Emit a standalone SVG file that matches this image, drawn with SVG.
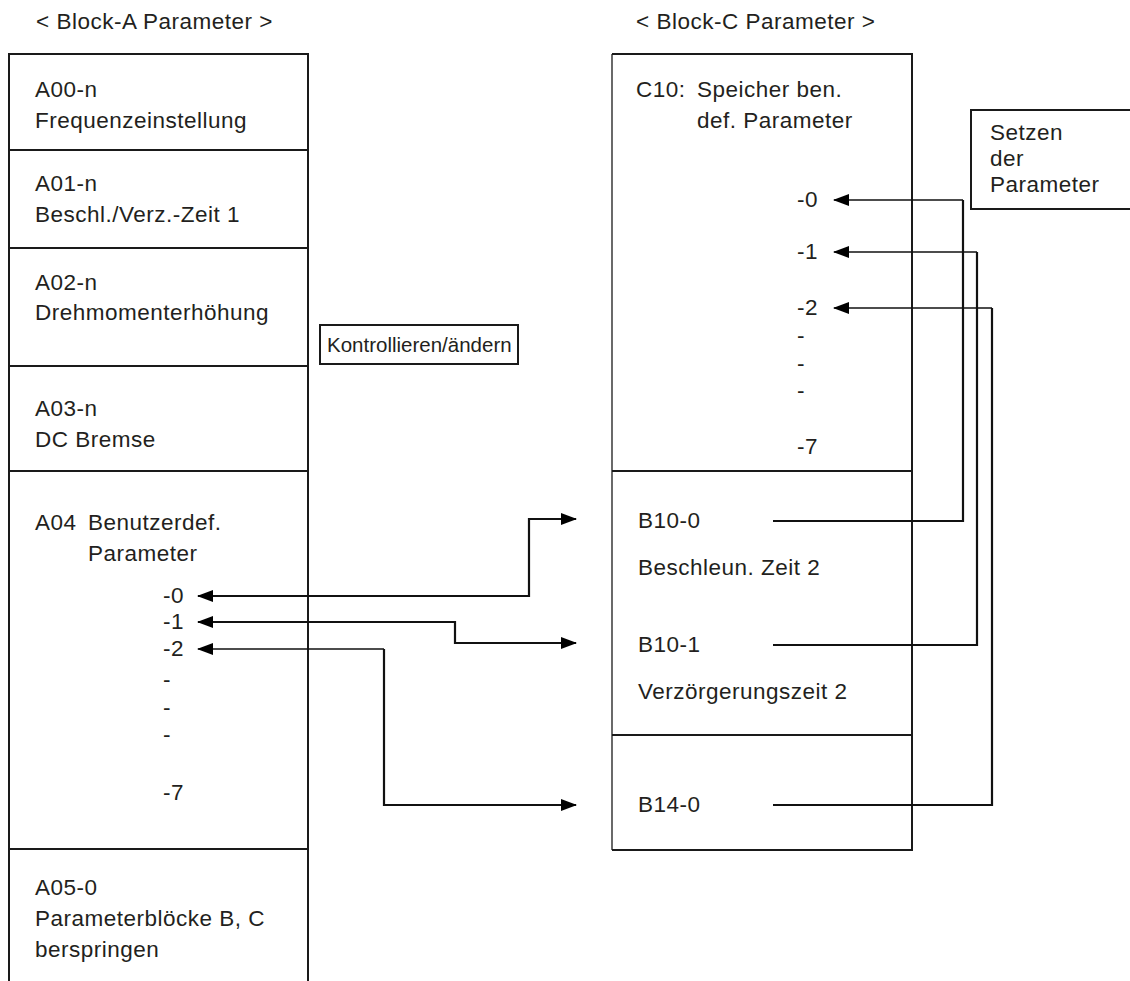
<svg xmlns="http://www.w3.org/2000/svg" width="1130" height="981" viewBox="0 0 1130 981">
  <style>
    text { font-family: "Liberation Sans", Arial, sans-serif; font-size: 22.5px; letter-spacing: 0.5px; fill: #231f20; }
    .small { font-size: 20.5px; letter-spacing: 0; }
    .frame { fill: none; stroke: #1a1a1a; stroke-width: 2; }
    .thin { fill: none; stroke: #1a1a1a; stroke-width: 1.3; }
    .wire { fill: none; stroke: #111; stroke-width: 2.2; }
    .wire-thin { fill: none; stroke: #111; stroke-width: 1.3; }
  </style>
  <defs>
    <marker id="arrow" viewBox="0 0 16 12" refX="15" refY="6" markerWidth="16" markerHeight="12" markerUnits="userSpaceOnUse" orient="auto-start-reverse">
      <path d="M0,0 L16,6 L0,12 Z" fill="#000"/>
    </marker>
  </defs>
  <rect width="1130" height="981" fill="#fff"/>

  <!-- headings -->
  <text x="36" y="29">&lt; Block-A Parameter &gt;</text>
  <text x="636" y="29">&lt; Block-C Parameter &gt;</text>

  <!-- Block A column -->
  <g id="block-a">
    <path class="frame" d="M9,985 V54 H308 V985"/>
    <path class="frame" d="M9,150 H308 M9,248 H308 M9,366 H308 M9,471 H308 M9,849 H308"/>
  </g>
  <g id="a00">
    <text x="35" y="97">A00-n</text>
    <text x="35" y="128">Frequenzeinstellung</text>
  </g>
  <g id="a01">
    <text x="35" y="191">A01-n</text>
    <text x="35" y="222">Beschl./Verz.-Zeit 1</text>
  </g>
  <g id="a02">
    <text x="35" y="290">A02-n</text>
    <text x="35" y="320">Drehmomenterhöhung</text>
  </g>
  <g id="a03">
    <text x="35" y="416">A03-n</text>
    <text x="35" y="447">DC Bremse</text>
  </g>
  <g id="a04">
    <text x="35" y="530">A04</text>
    <text x="88" y="530">Benutzerdef.</text>
    <text x="88" y="561">Parameter</text>
    <text x="163" y="603">-0</text>
    <text x="163" y="629">-1</text>
    <text x="163" y="656">-2</text>
    <text x="163" y="687">-</text>
    <text x="163" y="715">-</text>
    <text x="163" y="742">-</text>
    <text x="163" y="800">-7</text>
  </g>
  <g id="a05">
    <text x="35" y="895">A05-0</text>
    <text x="35" y="926">Parameterblöcke B, C</text>
    <text x="35" y="957">berspringen</text>
  </g>

  <!-- label box between the columns -->
  <g id="check-change">
    <rect class="frame" x="320" y="325" width="198" height="39"/>
    <text class="small" x="327" y="352">Kontrollieren/ändern</text>
  </g>

  <!-- Block C column -->
  <g id="block-c">
    <path class="frame" d="M612,54 H912 V850 H612"/>
    <path class="thin" d="M612,54 V850"/>
    <path class="frame" d="M612,471 H912 M612,735 H912"/>
  </g>
  <g id="c10">
    <text x="636" y="97">C10:</text>
    <text x="697" y="97">Speicher ben.</text>
    <text x="697" y="128">def. Parameter</text>
    <text x="797" y="207">-0</text>
    <text x="797" y="259">-1</text>
    <text x="797" y="315">-2</text>
    <text x="797" y="343">-</text>
    <text x="797" y="371">-</text>
    <text x="797" y="398">-</text>
    <text x="797" y="454">-7</text>
  </g>
  <g id="b10">
    <text x="638" y="528">B10-0</text>
    <text x="638" y="575">Beschleun. Zeit 2</text>
    <text x="638" y="652">B10-1</text>
    <text x="638" y="699">Verzörgerungszeit 2</text>
  </g>
  <g id="b14">
    <text x="638" y="812">B14-0</text>
  </g>

  <!-- label box on the right -->
  <g id="set-params">
    <rect class="frame" x="971" y="110" width="170" height="99"/>
    <text x="990" y="140">Setzen</text>
    <text x="990" y="166">der</text>
    <text x="990" y="192">Parameter</text>
  </g>

  <!-- connectors -->
  <g id="connectors">
    <!-- A04-0 <-> B10-0 -->
    <path class="wire" d="M198,596 H529 V519 H576" marker-start="url(#arrow)" marker-end="url(#arrow)"/>
    <!-- A04-1 <-> B10-1 -->
    <path class="wire" d="M198,622 H455 V643 H576" marker-start="url(#arrow)" marker-end="url(#arrow)"/>
    <!-- A04-2 <-> B14-0 -->
    <path class="wire-thin" d="M198,649 H384" marker-start="url(#arrow)"/>
    <path class="wire" d="M384,649 V805 H576" marker-end="url(#arrow)"/>

    <!-- B10-0 -> C10-0 -->
    <path class="wire-thin" d="M834,200 H963" marker-start="url(#arrow)"/>
    <path class="wire" d="M773,521 H963 V200"/>
    <!-- B10-1 -> C10-1 -->
    <path class="wire-thin" d="M834,252 H977" marker-start="url(#arrow)"/>
    <path class="wire" d="M773,645 H977 V252"/>
    <!-- B14-0 -> C10-2 -->
    <path class="wire-thin" d="M834,308 H992" marker-start="url(#arrow)"/>
    <path class="wire" d="M773,805 H992 V308"/>
  </g>
</svg>
